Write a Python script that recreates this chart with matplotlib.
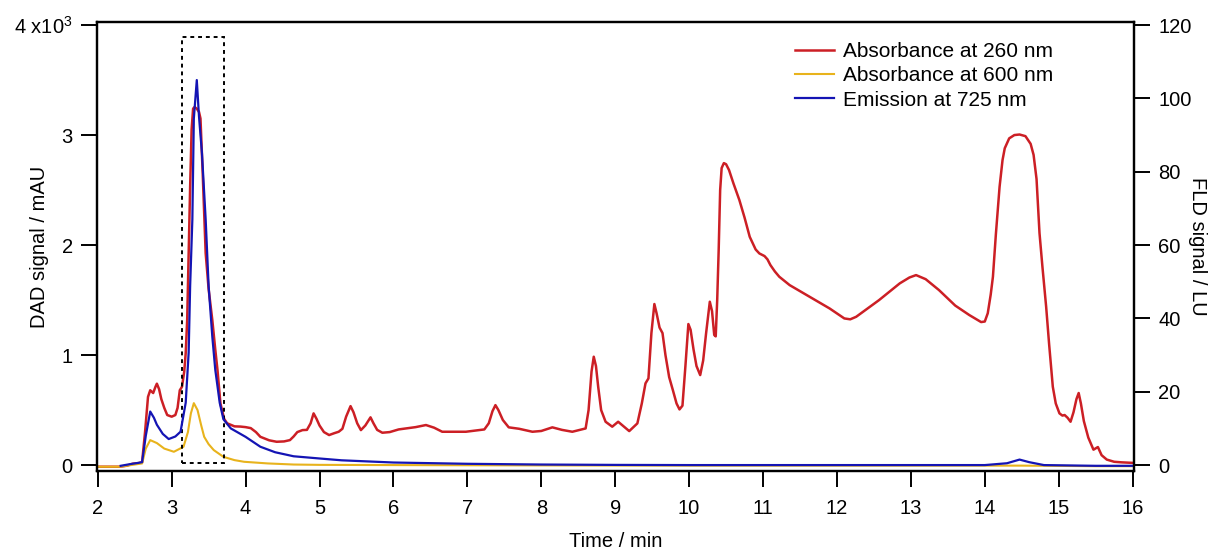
import matplotlib
matplotlib.use('Agg')
import matplotlib.pyplot as plt
from matplotlib.patches import Rectangle

plt.rcParams['font.family'] = ['Liberation Sans', 'DejaVu Sans']
plt.rcParams['mathtext.fontset'] = 'custom'
plt.rcParams['mathtext.rm'] = 'Liberation Sans'

# absorbance at 260 nm (mAU)
t_260 = [2.0, 2.3, 2.4, 2.47, 2.55, 2.6, 2.64, 2.68, 2.71, 2.75, 2.78, 2.80, 2.83, 2.86,
         2.9, 2.94, 3.0, 3.05, 3.08, 3.11, 3.14, 3.17, 3.19, 3.21, 3.23, 3.25, 3.27,
         3.29, 3.31, 3.34, 3.37, 3.39, 3.42, 3.46, 3.50, 3.55, 3.59, 3.62, 3.66, 3.71,
         3.75, 3.85, 3.93, 4.0, 4.07, 4.14, 4.2, 4.32, 4.42, 4.52, 4.6, 4.65, 4.7, 4.77,
         4.83, 4.88, 4.92, 4.96, 5.0, 5.06, 5.13, 5.2, 5.26, 5.31, 5.36, 5.42, 5.46,
         5.51, 5.56, 5.62, 5.69, 5.73, 5.78, 5.85, 5.95, 6.07, 6.3, 6.44, 6.55, 6.66,
         6.98, 7.23, 7.29, 7.34, 7.38, 7.42, 7.48, 7.56, 7.7, 7.88, 8.0, 8.15, 8.28,
         8.42, 8.52, 8.6, 8.64, 8.68, 8.71, 8.74, 8.77, 8.81, 8.87, 8.96, 9.04, 9.1,
         9.19, 9.30, 9.36, 9.41, 9.45, 9.49, 9.53, 9.56, 9.60, 9.64, 9.68, 9.73, 9.78,
         9.83, 9.87, 9.91, 9.95, 9.99, 10.02, 10.06, 10.1, 10.15, 10.19, 10.23, 10.28,
         10.31, 10.34, 10.36, 10.38, 10.40, 10.42, 10.44, 10.47, 10.50, 10.54, 10.6,
         10.68, 10.75, 10.82, 10.9, 10.95, 11.02, 11.06, 11.1, 11.16, 11.22, 11.36,
         11.63, 11.9, 12.1, 12.18, 12.26, 12.57, 12.85, 12.98, 13.07, 13.2, 13.38, 13.6,
         13.79, 13.9, 13.95, 14.0, 14.04, 14.08, 14.11, 14.15, 14.2, 14.24, 14.27,
         14.33, 14.4, 14.47, 14.55, 14.62, 14.66, 14.7, 14.74, 14.78, 14.83, 14.87,
         14.92, 14.96, 15.01, 15.05, 15.08, 15.12, 15.16, 15.2, 15.24, 15.27, 15.3,
         15.34, 15.4, 15.47, 15.53, 15.58, 15.65, 15.75, 15.85, 16.0]
a_260 = [-15, -15, -5, 12, 18, 25, 300, 620, 680, 655, 710, 740, 690, 600,
         520, 455, 440, 455, 520, 680, 712, 850, 1018, 1318, 1927, 2530, 3050,
         3240, 3255, 3240, 3210, 3150, 2650, 1927, 1600, 1318, 1050, 864, 560, 420,
         380, 352, 350, 345, 336, 300, 257, 225, 212, 215, 227, 260, 300, 318,
         320, 380, 470, 420, 360, 300, 273, 290, 303, 330, 440, 536, 480,
         380, 318, 360, 434, 380, 320, 294, 300, 324, 345, 364, 340, 303,
         303, 324, 380, 490, 545, 500, 410, 343, 330, 303, 310, 343, 320,
         303, 320, 333, 500, 850, 985, 900, 712, 500, 394, 349, 394, 360,
         309, 379, 560, 743, 788, 1200, 1464, 1380, 1250, 1200, 1000, 800, 682,
         560, 506, 540, 900, 1282, 1230, 1050, 900, 818, 950, 1200, 1485,
         1400, 1182, 1170, 1500, 1955, 2500, 2700, 2745, 2735, 2682, 2560,
         2409, 2250, 2075, 1960, 1924, 1900, 1870, 1818, 1760, 1712, 1636,
         1530, 1424, 1333, 1325, 1348, 1500, 1652, 1705, 1727, 1690, 1591, 1450,
         1364, 1320, 1300, 1305, 1380, 1550, 1712, 2100, 2530, 2773, 2880,
         2970, 3000, 3005, 2990, 2920, 2820, 2600, 2109, 1800, 1439, 1100,
         712, 560, 470, 450, 455, 430, 394, 480, 600, 655, 560,
         400, 250, 140, 164, 90, 50, 30, 25, 20]

# absorbance at 600 nm (mAU)
t_600 = [2.0, 2.3, 2.5, 2.6, 2.65, 2.71, 2.8, 2.9, 3.03, 3.16, 3.22, 3.26, 3.30, 3.35,
         3.4, 3.44, 3.5, 3.57, 3.7, 3.85, 3.98, 4.3, 4.65, 5.0, 6.0, 8.0, 10.0, 13.0,
         14.5, 15.5, 16.0]
a_600 = [-15, -15, 5, 15, 150, 227, 200, 150, 121, 166, 300, 470, 563, 500,
         360, 257, 190, 136, 75, 45, 30, 15, 5, 2, 0, -3, -5, -5,
         -5, -10, -10]

# emission at 725 nm (LU)
t_725 = [2.31, 2.45, 2.55, 2.6, 2.65, 2.71, 2.76, 2.8, 2.88, 2.96, 3.05, 3.12, 3.19,
         3.23, 3.25, 3.28, 3.30, 3.34, 3.37, 3.41, 3.46, 3.50, 3.55, 3.59, 3.65, 3.7,
         3.8, 4.0, 4.2, 4.4, 4.65, 5.0, 5.3, 6.0, 7.0, 8.0, 9.0, 10.0, 12.0, 14.0, 14.3,
         14.47, 14.6, 14.8, 15.5, 16.0]
f_725 = [-0.2, 0.3, 0.6, 0.8, 8, 14.6, 12.9, 11, 8.5, 7.1, 7.8, 9.1, 17,
         30.7, 48.8, 67, 94.5, 105, 95, 85, 67, 48.8, 35, 26, 17, 12.5,
         10, 7.7, 5.0, 3.5, 2.4, 1.8, 1.3, 0.7, 0.35, 0.15, 0.05, 0, 0, 0, 0.5,
         1.5, 0.8, 0, -0.2, -0.2]

# highlighted region (min, mAU)
box_t = (3.14, 3.71)
box_a = (18, 3894)

fig = plt.figure(figsize=(12.14, 5.52), dpi=100)
ax1 = fig.add_axes([0.0799, 0.1467, 0.8543, 0.8133])
ax2 = ax1.twinx()

l1, = ax1.plot(t_260, a_260, color='#cc1f25', lw=1.8, label='Absorbance at 260 nm')
l2, = ax1.plot(t_600, a_600, color='#e8b31c', lw=1.5, label='Absorbance at 600 nm')
l3, = ax2.plot(t_725, f_725, color='#1414b4', lw=1.6, label='Emission at 725 nm')

ax1.add_patch(Rectangle((box_t[0], box_a[0]), box_t[1] - box_t[0], box_a[1] - box_a[0],
                        fill=False, ls=(0, (2, 2)), lw=1.4, ec='black', zorder=5))

ax1.set_xlim(1.99, 16.02)
ax1.set_ylim(-54, 4027)
ax2.set_ylim(-54 / 33.333, 4027 / 33.333)

ax1.set_xticks(range(2, 17))
ax1.set_yticks([0, 1000, 2000, 3000, 4000])
ax1.set_yticklabels(['0', '1', '2', '3', r'4 x10$^{3}$'])
ax2.set_yticks([0, 20, 40, 60, 80, 100, 120])

for ax in (ax1, ax2):
    ax.tick_params(direction='out', length=11.5, width=1.4, labelsize=14.5, pad=6)
    for s in ax.spines.values():
        s.set_linewidth(1.6)
ax1.tick_params(axis='x', pad=9)

ax1.set_xlabel('Time / min', fontsize=14.5)
ax1.set_ylabel('DAD signal / mAU', fontsize=14.5)
ax2.set_ylabel('FLD signal / LU', fontsize=14.5, rotation=270, va='center')
ax1.xaxis.set_label_coords(0.5, -0.136)
ax1.yaxis.set_label_coords(-0.046, 0.5)
ax2.yaxis.set_label_coords(1.061, 0.5)

ax1.legend(handles=[l1, l2, l3], loc='upper left', bbox_to_anchor=(0.673, 0.955),
           frameon=False, fontsize=15, handlelength=1.85, handletextpad=0.45,
           labelspacing=0.25, borderaxespad=0, borderpad=0)

fig.savefig('out.png', dpi=100)
